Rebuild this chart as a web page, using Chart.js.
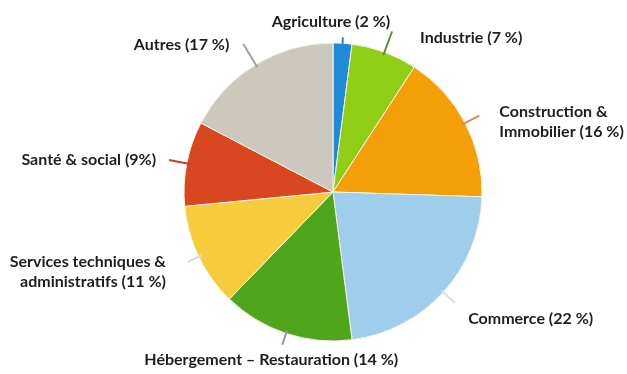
<!DOCTYPE html>
<html>
<head>
<meta charset="utf-8">
<script src="https://cdn.jsdelivr.net/npm/chart.js@4.4.1/dist/chart.umd.min.js"></script>
<style>
  html, body { margin: 0; padding: 0; background: #ffffff; }
  #wrap { width: 627px; height: 374px; position: relative; }
</style>
</head>
<body>
<div id="wrap"><canvas id="chart" width="627" height="374"></canvas></div>
<script>
// Répartition des établissements par secteur d'activité
const categories = [
  'Agriculture',
  'Industrie',
  'Construction & Immobilier',
  'Commerce',
  'Hébergement – Restauration',
  'Services techniques & administratifs',
  'Santé & social',
  'Autres'
];
const shares = [2, 7, 16, 22, 14, 11, 9, 17];

// Label text broken into lines, the percentage is appended to the last line
const labelLines = [
  ['Agriculture'],
  ['Industrie'],
  ['Construction &', 'Immobilier'],
  ['Commerce'],
  ['Hébergement – Restauration'],
  ['Services techniques &', 'administratifs'],
  ['Santé & social'],
  ['Autres']
];
const percentGap = [' ', ' ', ' ', ' ', ' ', ' ', '', ' '];

const sliceColors = ['#1f8ad6', '#8fcd17', '#f49e08', '#9fcdec', '#4fa61b', '#f6cc3c', '#d8471f', '#cdc8bd'];
const leaderColors = ['#1f8ad6', '#5f8d3c', '#d98a55', '#cfe2f0', '#9a9a9a', '#d8dde0', '#d03a2a', '#a0a0a0'];
const leaderLength = [6, 22, 16, 16, 12, 12, 18, 24];

// Where each label sits relative to the end of its leader line
const placement = [
  { align: 'center', dx: -12, dy: -15 },
  { align: 'left',   dx: 28,  dy: 6 },
  { align: 'left',   dx: 20,  dy: -4 },
  { align: 'left',   dx: 13,  dy: 16 },
  { align: 'center', dx: -11, dy: 15 },
  { align: 'right',  dx: -22, dy: 0 },
  { align: 'right',  dx: -13, dy: 0 },
  { align: 'right',  dx: -14, dy: 1 }
];

const calloutPlugin = {
  id: 'callouts',
  afterDatasetsDraw(chart) {
    const ctx = chart.ctx;
    const meta = chart.getDatasetMeta(0);
    ctx.save();
    meta.data.forEach((arc, i) => {
      const { x, y, startAngle, endAngle, outerRadius } = arc.getProps(['x', 'y', 'startAngle', 'endAngle', 'outerRadius'], true);
      const mid = (startAngle + endAngle) / 2;
      const cos = Math.cos(mid), sin = Math.sin(mid);
      const r0 = outerRadius - 3, r1 = outerRadius + leaderLength[i];
      const ex = x + cos * r1, ey = y + sin * r1;
      ctx.strokeStyle = leaderColors[i];
      ctx.lineWidth = 2;
      ctx.beginPath();
      ctx.moveTo(x + cos * r0, y + sin * r0);
      ctx.lineTo(ex, ey);
      ctx.stroke();

      const lines = labelLines[i].slice();
      lines[lines.length - 1] += ' (' + shares[i] + percentGap[i] + '%)';
      const p = placement[i];
      ctx.fillStyle = '#1e1e1e';
      ctx.font = 'bold 16px Lato, "Open Sans", sans-serif';
      ctx.textAlign = p.align;
      ctx.textBaseline = 'middle';
      lines.forEach((line, k) => {
        ctx.fillText(line, ex + p.dx, ey + p.dy + k * 20);
      });
    });
    ctx.restore();
  }
};

new Chart(document.getElementById('chart'), {
  type: 'pie',
  data: {
    labels: categories,
    datasets: [{
      data: shares,
      backgroundColor: sliceColors,
      borderColor: '#f5f3e6',
      borderWidth: 1
    }]
  },
  options: {
    responsive: false,
    animation: false,
    radius: 149,
    layout: { padding: { top: 43, bottom: 33, left: 39, right: 0 } },
    plugins: {
      legend: { display: false },
      tooltip: { enabled: false }
    }
  },
  plugins: [calloutPlugin]
});
</script>
</body>
</html>
